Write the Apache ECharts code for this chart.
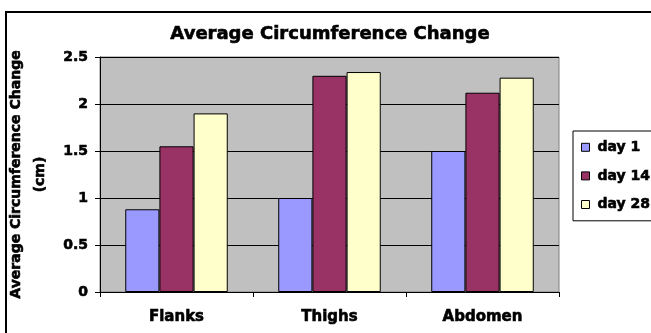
<!DOCTYPE html>
<html>
<head>
<meta charset="utf-8">
<style>
  html, body { margin: 0; padding: 0; background: #ffffff; }
  #chart { width: 651px; height: 333px; }
</style>
<script src="https://cdn.jsdelivr.net/npm/echarts@6/dist/echarts.min.js"></script>
</head>
<body>
<div id="chart"></div>
<script>
// Body regions and measurement days
const regions = ['Flanks', 'Thighs', 'Abdomen'];
const seriesNames = ['day 1', 'day 14', 'day 28'];

// Average circumference change (cm) per region
const day1 = [0.88, 1.0, 1.5];
const day14 = [1.55, 2.3, 2.12];
const day28 = [1.9, 2.34, 2.28];

const yTicks = [0, 0.5, 1, 1.5, 2, 2.5];

const colors = ['#9999FF', '#993366', '#FFFFCC'];
const FONT = 'DejaVu Sans';

// Heavy bold text: bold face plus a thin outline in the same colour
const heavy = (size) => ({
  fontFamily: FONT, fontWeight: 'bold', fontSize: size, color: '#000',
  textBorderColor: '#000', textBorderWidth: 0.6
});

const chart = echarts.init(document.getElementById('chart'), null, { renderer: 'canvas' });

const valuesBySeries = [day1, day14, day28];

chart.setOption({
  animation: false,
  backgroundColor: '#ffffff',
  title: {
    text: 'Average Circumference Change',
    left: 325,
    top: 20,
    textAlign: 'center',
    textStyle: heavy(18)
  },
  legend: {
    orient: 'vertical',
    left: 573,
    top: 131,
    padding: [9, 20, 9, 8],
    itemWidth: 8,
    itemHeight: 8,
    itemGap: 14,
    borderColor: '#000',
    borderWidth: 1,
    backgroundColor: '#fff',
    icon: 'rect',
    data: seriesNames.map((n) => ({ name: n, itemStyle: { borderColor: '#000', borderWidth: 1 } })),
    textStyle: Object.assign(heavy(14), { padding: [0, 0, 0, 3] })
  },
  grid: {
    left: 100,
    top: 57,
    width: 459,
    height: 235,
    outerBoundsMode: 'none',
    containLabel: false,
    show: true,
    backgroundColor: '#C0C0C0',
    borderColor: '#808080',
    borderWidth: 1
  },
  xAxis: {
    type: 'category',
    data: regions,
    axisLine: { lineStyle: { color: '#000', width: 1 } },
    axisTick: { show: true, length: 5, lineStyle: { color: '#000' } },
    axisLabel: Object.assign(heavy(15), { margin: 18 })
  },
  yAxis: {
    type: 'value',
    min: yTicks[0],
    max: yTicks[yTicks.length - 1],
    interval: 0.5,
    name: 'Average Circumference Change\n(cm)',
    nameLocation: 'middle',
    nameGap: 44,
    nameRotate: 90,
    nameTextStyle: Object.assign(heavy(14), { lineHeight: 24 }),
    axisLine: { show: true, lineStyle: { color: '#000', width: 1 } },
    axisTick: { show: true, length: 5, lineStyle: { color: '#000' } },
    splitLine: { show: true, lineStyle: { color: '#000', width: 1 } },
    axisLabel: Object.assign(heavy(14), {
      margin: 12,
      formatter: (v) => String(v)
    })
  },
  series: seriesNames.map((name, i) => ({
    name: name,
    type: 'bar',
    data: valuesBySeries[i],
    barGap: '0%',
    barCategoryGap: '33%',
    itemStyle: { color: colors[i], borderColor: '#000', borderWidth: 1 }
  })),
  graphic: [
    {
      type: 'rect',
      shape: { x: 6, y: 12, width: 700, height: 400 },
      style: { fill: 'none', stroke: '#000', lineWidth: 2 },
      silent: true,
      z: 100
    }
  ]
});
</script>
</body>
</html>
